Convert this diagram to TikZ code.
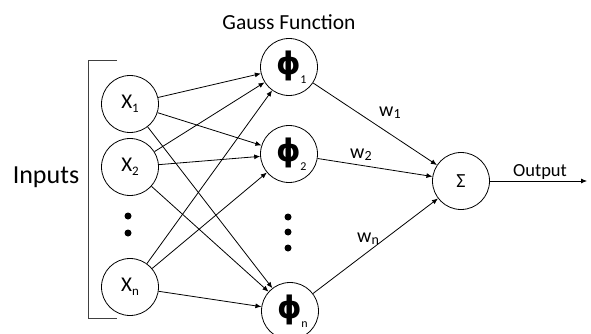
\documentclass[tikz,border=0pt]{standalone}
\usepackage{fontspec}
\setmainfont{Carlito}
\newfontfamily\phifont{DejaVu Sans}
\usetikzlibrary{arrows.meta}
\newcommand{\fs}[1]{\fontsize{#1}{#1}\selectfont}
\newcommand{\xlab}[1]{\fs{21}X\raisebox{-4pt}{\fs{13}#1}}
\newcommand{\philab}[1]{\raisebox{-2pt}{\phifont\bfseries\fs{31}ϕ}\rlap{\kern-1pt\raisebox{-11pt}{\fs{12}#1}}}
\newcommand{\wlab}[1]{\fs{20}w\raisebox{-2pt}{\fs{14}#1}}
\begin{document}
\begin{tikzpicture}[x=1pt,y=-1pt,
  neuron/.style={draw, circle, minimum size=57pt, inner sep=0pt, line width=0.8pt},
  conn/.style={-{Latex[length=6pt,width=5pt]}, line width=0.8pt},
  dotmark/.style={fill, circle, inner sep=0pt, minimum size=7pt},
  txt/.style={inner sep=0pt, anchor=base}]
\useasboundingbox (0,0) rectangle (591,334);
\begin{scope}
\clip (0,0) rectangle (591,334);
% input nodes
\node[neuron] (x1) at (130,104) {\xlab{1}};
\node[neuron] (x2) at (130,167) {\xlab{2}};
\node[neuron] (xn) at (130,287) {\xlab{n}};
% gauss nodes
\node[neuron] (p1) at (289,67) {\philab{1}};
\node[neuron] (p2) at (289,154) {\philab{2}};
\node[neuron] (pn) at (290,311) {\philab{n}};
% sum node
\node[neuron] (s) at (461,181) {\fs{20}Σ};
\end{scope}
% dots
\node[dotmark] (d1) at (128,216) {};
\node[dotmark] (d2) at (128,233) {};
\node[dotmark] (e1) at (288,217) {};
\node[dotmark] (e2) at (288,232) {};
\node[dotmark] (e3) at (288,248) {};
% bracket
\draw[line width=1pt, black!75] (117,61) -- (88,61) -- (88,318) -- (117,318);
% labels
\node[txt] (inp) at (46,183) {\fs{26}Inputs};
\node[txt] (gauss) at (289,30) {\fs{21.5}Gauss Function};
\node[txt] (outl) at (540,176) {\fs{18.5}Output};
\node[txt, anchor=base west] (w1) at (379,117) {\wlab{1}};
\node[txt, anchor=base west] (w2) at (350,158) {\wlab{2}};
\node[txt, anchor=base west] (wn) at (357,242) {\wlab{n}};
% connections
\foreach \a in {x1,x2,xn}{
  \foreach \b in {p1,p2,pn}{
    \draw[conn] (\a) -- (\b);
  }
}
\foreach \b in {p1,p2,pn}{
  \draw[conn] (\b) -- (s);
}
\coordinate (oend) at (587,181);
\draw[conn] (s) -- (oend);
\end{tikzpicture}
\end{document}
